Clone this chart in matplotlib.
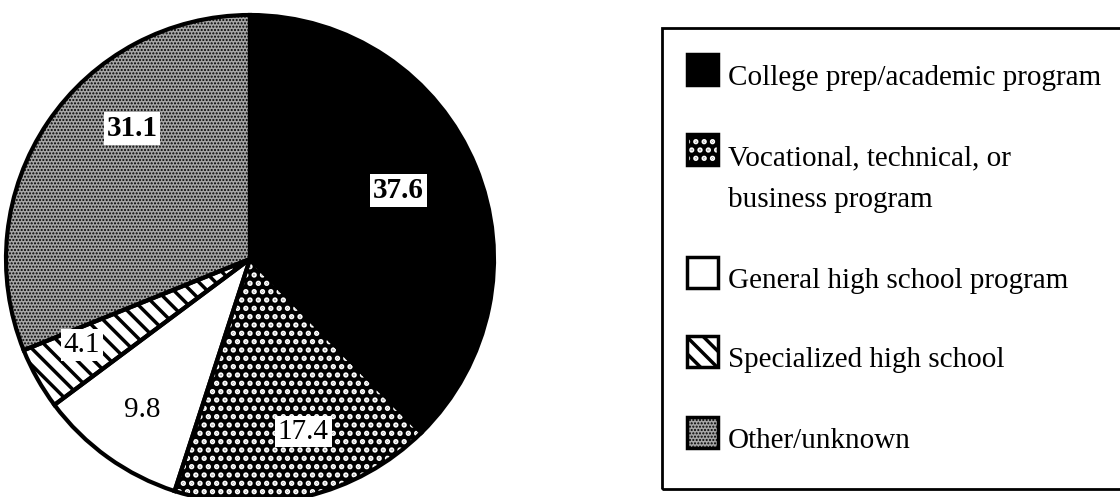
import matplotlib.pyplot as plt
from matplotlib.patches import Rectangle
import numpy as np

plt.rcParams['font.family'] = ['Liberation Serif', 'DejaVu Serif']
plt.rcParams['hatch.linewidth'] = 2.5

# data (percent)
categories = [
    'College prep/academic program',
    'Vocational, technical, or\nbusiness program',
    'General high school program',
    'Specialized high school',
    'Other/unknown',
]
shares = [37.6, 17.4, 9.8, 4.1, 31.1]
value_labels = ['37.6', '17.4', '9.8', '4.1', '31.1']

# styling per slice
fills = ['black', 'black', 'white', 'white', '#a6a6a6']
hatches = [None, '..', None, '\\\\', '.....']
hatch_colors = ['black', 'white', 'black', 'black', 'black']
hatch_widths = [1.0, 2.6, 1.0, 2.5, 1.0]
label_bold = [True, False, False, False, True]
label_boxed = [True, True, False, True, True]
# (radial distance, angle shift in degrees) for the value labels
label_place = [(0.67, 2.4), (0.74, 3.8), (0.76, 0.0), (0.775, -2.2), (0.72, -13.8)]

W, H = 1120, 497
fig = plt.figure(figsize=(W / 100, H / 100), dpi=100)


def fx(x):
    return x / W


def fy(y):
    return 1 - y / H


def set_hatch(p, h, lw):
    if not h:
        return
    p.set_hatch(h)
    if hasattr(p, 'set_hatch_linewidth'):
        p.set_hatch_linewidth(lw)


# pie: center (250, 259) px, radius 244 px
cx, cy, r = 250, 259, 244
ax = fig.add_axes([fx(cx - r), fy(cy + r), 2 * r / W, 2 * r / H])

wedges, _ = ax.pie(shares, startangle=90, counterclock=False, radius=1,
                   colors=fills, wedgeprops=dict(linewidth=0))
for w, h, hc, hw in zip(wedges, hatches, hatch_colors, hatch_widths):
    w.set_edgecolor(hc)
    set_hatch(w, h, hw)

# outlines on top
ax.pie(shares, startangle=90, counterclock=False, radius=1,
       wedgeprops=dict(fill=False, edgecolor='black', linewidth=3))

for w, txt, bold, boxed, (dist, shift) in zip(wedges, value_labels, label_bold,
                                               label_boxed, label_place):
    ang = np.deg2rad((w.theta1 + w.theta2) / 2 + shift)
    box = dict(facecolor='white', edgecolor='none', pad=2) if boxed else None
    ax.text(dist * np.cos(ang), dist * np.sin(ang), txt, ha='center', va='center',
            fontsize=21, fontweight='bold' if bold else 'normal', bbox=box)

ax.set_xlim(-1, 1)
ax.set_ylim(-1, 1)
ax.axis('off')

# legend box
fig.add_artist(Rectangle((fx(662), fy(489)), fx(1135 - 662), (489 - 28) / H,
                         transform=fig.transFigure, fill=False,
                         edgecolor='black', linewidth=2))

baselines = [85, 165, 288, 367, 448]
line_gap = 42
msize = 31
for name, fc, h, hc, hw, base in zip(categories, fills, hatches, hatch_colors,
                                     hatch_widths, baselines):
    x0, y0 = fx(687), fy(base)
    m = Rectangle((x0, y0), msize / W, msize / H, transform=fig.transFigure,
                  facecolor=fc, edgecolor=hc, linewidth=0)
    set_hatch(m, h, hw)
    fig.add_artist(m)
    fig.add_artist(Rectangle((x0, y0), msize / W, msize / H, transform=fig.transFigure,
                             fill=False, edgecolor='black', linewidth=2.5))
    for i, line in enumerate(name.split('\n')):
        fig.text(fx(728), fy(base + i * line_gap), line, fontsize=21,
                 ha='left', va='baseline')

fig.savefig('out.png', dpi=100, facecolor='white')
